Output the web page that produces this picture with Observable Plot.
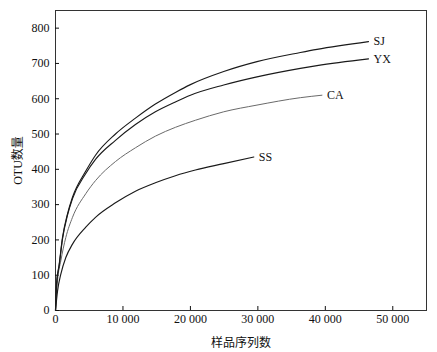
<!DOCTYPE html>
<html>
<head>
<meta charset="utf-8">
<script src="https://cdn.jsdelivr.net/npm/d3@7"></script>
<script src="https://cdn.jsdelivr.net/npm/@observablehq/plot@0.6"></script>
<style>
  html, body { margin: 0; padding: 0; background: #fff; }
  #chart svg { display: block; }
</style>
</head>
<body>
<div id="chart"></div>
<script>
const seriesNames = ["SJ", "YX", "CA", "SS"];
const sjX = [0, 150, 550, 1040, 1780, 2520, 4490, 5930, 8890, 11850, 14810, 17780, 20000, 24940, 29870, 36300, 38770, 46400];
const sjY = [0, 75, 131, 207, 274, 321, 395, 440, 500, 545, 585, 618, 640, 677, 705, 731, 740, 762];
const yxX = [0, 150, 550, 1040, 1780, 2520, 4490, 5930, 8890, 11850, 14810, 17780, 20000, 24940, 29870, 36300, 38770, 46400];
const yxY = [0, 72, 128, 203, 270, 317, 388, 428, 482, 527, 563, 591, 610, 639, 662, 686, 694, 713];
const caX = [0, 300, 790, 1530, 2520, 4490, 5930, 8890, 11850, 14810, 17780, 20740, 24940, 29870, 36300, 39500];
const caY = [0, 84, 141, 207, 264, 331, 368, 422, 461, 494, 519, 539, 563, 582, 603, 610];
const ssX = [0, 300, 790, 1530, 2520, 4490, 5930, 8890, 11850, 14810, 17780, 20740, 24940, 29400];
const ssY = [0, 55, 103, 150, 188, 236, 264, 305, 338, 362, 382, 398, 416, 435];
const xTicks = [0, 10000, 20000, 30000, 40000, 50000];
const yTicks = [0, 100, 200, 300, 400, 500, 600, 700, 800];
const xLabel = "样品序列数";
const yLabel = "OTU数量";

const seriesX = [sjX, yxX, caX, ssX];
const seriesY = [sjY, yxY, caY, ssY];
const rows = [];
seriesNames.forEach((name, i) => {
  seriesX[i].forEach((x, j) => rows.push({series: name, x, y: seriesY[i][j]}));
});
const ends = seriesNames.map((name, i) => ({
  series: name,
  x: seriesX[i][seriesX[i].length - 1],
  y: seriesY[i][seriesY[i].length - 1]
}));

const fmtX = d => d >= 10000 ? (Math.floor(d / 1000) + " " + String(d % 1000).padStart(3, "0")) : String(d);

const chart = Plot.plot({
  width: 437,
  height: 352,
  marginLeft: 55,
  marginRight: 11,
  marginTop: 10,
  marginBottom: 42,
  style: {fontFamily: "'Liberation Serif', 'Noto Sans CJK SC', serif", fontSize: "12px", color: "#111", background: "#fff"},
  x: {domain: [0, 55000]},
  y: {domain: [0, 850]},
  marks: [
    Plot.frame({stroke: "#333", strokeWidth: 1}),
    Plot.axisX(xTicks, {tickSize: -4, tickPadding: 8, tickFormat: fmtX, fontSize: 12, label: xLabel, labelAnchor: "center", labelOffset: 36, labelArrow: "none", fill: "#111"}),
    Plot.axisY(yTicks, {tickSize: -4, tickPadding: 10, fontSize: 12, label: yLabel, labelAnchor: "center", labelOffset: 42, labelArrow: "none", fill: "#111"}),
    Plot.line(rows.filter(d => d.series === "CA"), {x: "x", y: "y", stroke: "#6a6a6a", strokeWidth: 1, curve: "monotone-x"}),
    Plot.line(rows.filter(d => d.series !== "CA"), {x: "x", y: "y", z: "series", stroke: "#1a1a1a", strokeWidth: 1.15, curve: "monotone-x"}),
    Plot.text(ends, {x: "x", y: "y", text: "series", textAnchor: "start", dx: 5, fontSize: 12, fill: "#111"})
  ]
});
document.getElementById("chart").appendChild(chart);
</script>
</body>
</html>
